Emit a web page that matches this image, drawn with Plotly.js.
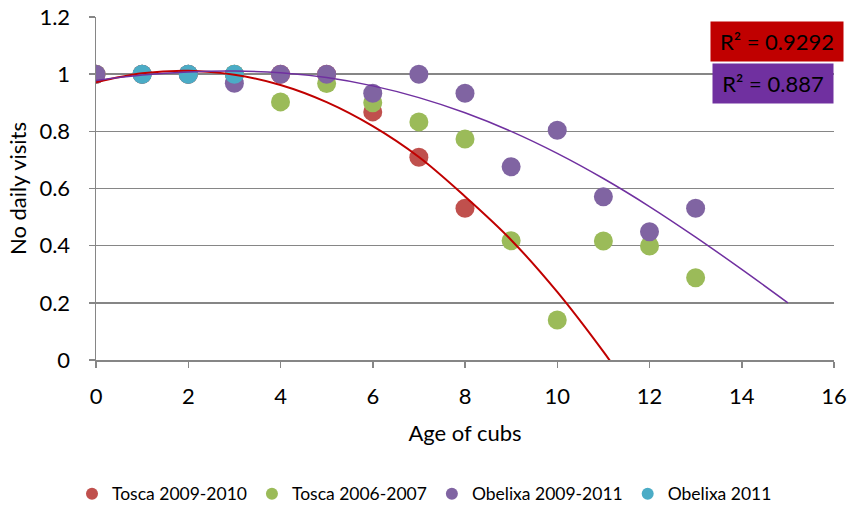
<!DOCTYPE html>
<html>
<head>
<meta charset="utf-8">
<script src="https://cdn.plot.ly/plotly-3.0.1.min.js"></script>
<style>html,body{margin:0;padding:0;background:#fff;}#chart{width:849px;height:508px;}</style>
</head>
<body>
<div id="chart"></div>
<script>
// Scatter data
const toscaA_x = [0, 1, 2, 3, 4, 5, 6, 7, 8];
const toscaA_y = [1, 1, 1, 1, 1, 1, 0.868, 0.709, 0.531];

const toscaB_x = [0, 1, 2, 3, 4, 5, 6, 7, 8, 9, 10, 11, 12, 13];
const toscaB_y = [1, 1, 1, 1, 0.903, 0.967, 0.9, 0.833, 0.773, 0.417, 0.14, 0.416, 0.399, 0.288];

const obelA_x = [0, 1, 2, 3, 4, 5, 6, 7, 8, 9, 10, 11, 12, 13];
const obelA_y = [1, 1, 1, 0.968, 1, 1, 0.933, 1, 0.933, 0.676, 0.804, 0.571, 0.449, 0.531];

const obelB_x = [1, 2, 3];
const obelB_y = [1, 1, 1];

// Trendlines
const trendRed_x = [0, 1, 2, 3, 4, 5, 6, 7, 8, 9, 10, 11, 11.5];
const trendRed_y = [0.972, 1.003, 1.012, 0.998, 0.962, 0.902, 0.818, 0.71, 0.572, 0.42, 0.238, 0.029, -0.085];

const trendPurple_x = [0, 1, 2, 3, 4, 5, 6, 7, 8, 9, 10, 11, 12, 13, 14, 15];
const trendPurple_y = [0.978, 0.997, 1.008, 1.011, 1.005, 0.988, 0.959, 0.918, 0.865, 0.8, 0.723, 0.635, 0.537, 0.43, 0.317, 0.2];

const r2Labels = ["R\u00b2 = 0.9292", "R\u00b2 = 0.887"];
const seriesNames = ["Tosca 2009-2010", "Tosca 2006-2007", "Obelixa 2009-2011", "Obelixa 2011"];

const FONT = "Lato, 'Open Sans', sans-serif";
const mk = (c) => ({color: c, size: 19, line: {width: 0}});

const traces = [
  {x: toscaA_x, y: toscaA_y, mode: 'markers', type: 'scatter', name: seriesNames[0], marker: mk('#C0504D')},
  {x: toscaB_x, y: toscaB_y, mode: 'markers', type: 'scatter', name: seriesNames[1], marker: mk('#9BBB59')},
  {x: obelA_x, y: obelA_y, mode: 'markers', type: 'scatter', name: seriesNames[2], marker: mk('#8064A2')},
  {x: obelB_x, y: obelB_y, mode: 'markers', type: 'scatter', name: seriesNames[3], marker: mk('#4BACC6')},
  {x: trendRed_x, y: trendRed_y, mode: 'lines', type: 'scatter', showlegend: false, hoverinfo: 'skip',
   line: {color: '#C00000', width: 2, shape: 'spline'}},
  {x: trendPurple_x, y: trendPurple_y, mode: 'lines', type: 'scatter', showlegend: false, hoverinfo: 'skip',
   line: {color: '#7030A0', width: 1.5, shape: 'spline'}}
];

const layout = {
  width: 849, height: 508,
  margin: {l: 96, r: 15, t: 17, b: 148, autoexpand: false},
  paper_bgcolor: '#fff', plot_bgcolor: '#fff',
  font: {family: FONT, color: '#000', size: 22},
  showlegend: true,
  legend: {
    orientation: 'h', xref: 'container', yref: 'container',
    x: 0.5, xanchor: 'center', y: 0.028, yanchor: 'middle',
    font: {family: FONT, size: 17.5, color: '#000'}, itemsizing: 'constant', itemwidth: 30,
    traceorder: 'normal', tracegroupgap: 0
  },
  xaxis: {
    range: [0, 16], dtick: 2, tick0: 0,
    showgrid: false, zeroline: false,
    showline: true, linecolor: '#868686', linewidth: 1.5,
    ticks: 'outside', ticklen: 6, tickcolor: '#868686', tickwidth: 1.5,
    ticklabelstandoff: 10,
    tickfont: {family: FONT, size: 22, color: '#000'},
    title: {text: 'Age of cubs', font: {family: FONT, size: 22, color: '#000'}, standoff: 17}
  },
  yaxis: {
    range: [0, 1.2], dtick: 0.2, tick0: 0,
    showgrid: true, gridcolor: '#868686', gridwidth: 1.5,
    zeroline: false,
    showline: true, linecolor: '#868686', linewidth: 1.5,
    ticks: 'outside', ticklen: 6, tickcolor: '#868686', tickwidth: 1.5,
    ticklabelstandoff: 14,
    tickfont: {family: FONT, size: 22, color: '#000'},
    tickformat: '~g',
    title: {text: 'No daily visits', font: {family: FONT, size: 22, color: '#000'}, standoff: 6}
  },
  annotations: [
    {x: 14.76, y: 1.115, xref: 'x', yref: 'y', text: r2Labels[0], showarrow: false,
     bgcolor: '#C00000', width: 124, height: 31, borderpad: 4,
     font: {family: FONT, size: 22, color: '#000'}},
    {x: 14.68, y: 0.968, xref: 'x', yref: 'y', text: r2Labels[1], showarrow: false,
     bgcolor: '#7030A0', width: 112, height: 31, borderpad: 4,
     font: {family: FONT, size: 22, color: '#000'}}
  ]
};

Plotly.newPlot('chart', traces, layout, {displayModeBar: false, staticPlot: true});
</script>
</body>
</html>
